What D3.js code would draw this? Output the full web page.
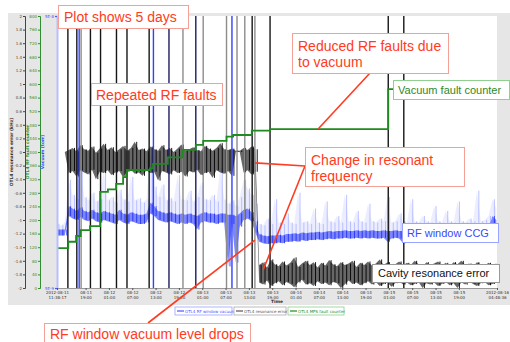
<!DOCTYPE html>
<head>
  <meta charset="utf-8">
  <style>
    body { margin: 0; background: #fff; }
    .tick text { font-family: "DejaVu Sans", sans-serif; font-size: 4px; }
    .note { font-family: "Liberation Sans", Arial, sans-serif; }
  </style>
  <script src="https://d3js.org/d3.v7.min.js"></script>
</head>
<body>
<script>
// time span shown in the plot
var startTime = "2012-08-11 11:38:17",
    endTime = "2012-08-16 04:48:36";

// time axis ticks (every 6 h)
var timeTicks = ["2012-08-11 19:00", "2012-08-12 01:00", "2012-08-12 07:00", "2012-08-12 13:00",
  "2012-08-12 19:00", "2012-08-13 01:00", "2012-08-13 07:00", "2012-08-13 13:00", "2012-08-13 19:00",
  "2012-08-14 01:00", "2012-08-14 07:00", "2012-08-14 13:00", "2012-08-14 19:00", "2012-08-15 01:00",
  "2012-08-15 07:00", "2012-08-15 13:00", "2012-08-15 19:00"];

var resTicks = [-2, -1.8, -1.6, -1.4, -1.2, -1, -0.8, -0.6, -0.4, -0.2, 0, 0.2, 0.4, 0.6, 0.8, 1, 1.2, 1.4, 1.6, 1.8, 2];
var cntTicks = [0, 40, 80, 120, 160, 200, 240, 280, 320, 360, 400, 440, 480, 520, 560, 600, 640, 680, 720, 760, 800];
var vacTicks = [5, 50];            // nTorr
var vacTickLabels = ["5E-9", "5E-8"];

// resonance error (kHz), min / max in each hour from the start
var resLo = [0, 0, 0, -0.31, -0.28, -0.36, -0.27, -0.30, -0.33, -0.26,
  -0.40, -0.29, -0.31, -0.27, -0.34, -0.30, -0.28, -0.37, -0.29, -0.26,
  -0.32, -0.30, -0.35, -0.27, -0.31, -0.29, -0.42, -0.28, -0.30, -0.33,
  -0.27, -0.31, -0.29, -0.36, -0.28, -0.30, -0.26, -0.34, -0.31, -0.29,
  -0.38, -0.27, -0.30, -0.32, -0.28, -0.35, 0.00, 0.00, -0.30, -0.27,
  -0.33, -0.29, -1.92, -1.95, -1.89, -1.97, -1.93, -1.90, -1.96, -1.91,
  -1.94, -1.99, -1.92, -1.88, -1.95, -1.93, -1.97, -1.90, -1.94, -1.92,
  -1.96, -1.91, -1.93, -2.00, -1.95, -1.89, -1.94, -1.92, -1.96, -1.93,
  -1.90, -1.95, -1.91, -1.97, -1.94, -1.92, -1.98, -1.93, -1.90, -1.95,
  -1.92, -1.96, -1.94, -1.91, -2.00, -1.93, -1.95, -1.92, -1.97, -1.94,
  -1.91, -1.96, -1.93, -2.00, -1.92, -1.95, -1.90, -1.94, -1.97, -1.93,
  -1.91, -1.96, -1.94, -1.92];
var resHi = [0, 0, 0, 0.03, 0.06, 0.01, 0.10, 0.04, 0.02, 0.08,
  -0.01, 0.05, 0.12, 0.03, 0.07, 0.00, 0.04, 0.09, 0.02, 0.06,
  0.15, 0.03, 0.05, 0.01, 0.08, 0.04, 0.02, 0.10, 0.03, 0.06,
  0.00, 0.05, 0.11, 0.02, 0.04, 0.07, 0.03, 0.01, 0.09, 0.05,
  0.02, 0.06, 0.13, 0.04, 0.03, 0.05, 0.02, 0.02, 0.06, 0.03,
  0.08, 0.04, -1.66, -1.62, -1.70, -1.58, -1.65, -1.68, -1.61, -1.67,
  -1.63, -1.55, -1.69, -1.64, -1.60, -1.66, -1.62, -1.70, -1.63, -1.67,
  -1.59, -1.65, -1.68, -1.62, -1.66, -1.64, -1.60, -1.69, -1.63, -1.66,
  -1.61, -1.67, -1.64, -1.58, -1.66, -1.62, -1.68, -1.65, -1.61, -1.67,
  -1.63, -1.66, -1.60, -1.65, -1.69, -1.62, -1.66, -1.64, -1.61, -1.67,
  -1.63, -1.68, -1.62, -1.65, -1.60, -1.66, -1.64, -1.69, -1.62, -1.65,
  -1.67, -1.63, -1.66, -1.64];

// RF window vacuum (nTorr), hourly min / max and peak
var vacLo = [7.8, 7.8, 7.8, 9.2, 9.0, 8.9, 9.1, 8.9, 8.8, 9.0,
  8.8, 8.7, 8.9, 8.8, 8.7, 8.6, 8.9, 8.7, 8.6, 8.8,
  8.7, 8.6, 8.6, 8.7, 9.4, 9.2, 8.9, 8.8, 8.7, 8.8,
  8.7, 8.6, 8.7, 8.6, 8.7, 8.6, 8.2, 8.7, 8.8, 8.7,
  8.7, 8.6, 8.7, 8.7, 6.0, 8.6, 6.2, 8.4, 8.9, 9.0,
  8.8, 8.0, 7.4, 7.3, 7.25, 7.3, 7.3, 7.35, 7.3, 7.4,
  7.4, 7.45, 7.4, 7.5, 7.45, 7.5, 7.5, 7.55, 7.5, 7.55,
  7.6, 7.55, 7.6, 7.6, 7.65, 7.6, 7.6, 7.65, 7.6, 7.65,
  7.6, 7.65, 7.6, 7.6, 7.65, 7.4, 7.6, 7.65, 7.6, 7.3,
  7.6, 7.65, 7.6, 7.65, 7.6, 7.65, 7.6, 7.6, 7.65, 7.6,
  7.65, 7.6, 7.65, 7.6, 7.6, 7.65, 7.6, 7.65, 7.6, 7.6,
  7.65, 7.7, 8.4, 8.1];
var vacHi = [8.2, 8.2, 8.2, 10.0, 9.8, 9.6, 9.9, 9.6, 9.5, 9.7,
  9.5, 9.4, 9.6, 9.5, 9.4, 9.3, 9.7, 9.4, 9.3, 9.5,
  9.4, 9.3, 9.3, 9.4, 10.3, 10.0, 9.6, 9.5, 9.4, 9.5,
  9.4, 9.3, 9.4, 9.3, 9.4, 9.3, 9.2, 9.4, 9.5, 9.4,
  9.4, 9.3, 9.4, 9.4, 9.3, 9.3, 9.2, 9.4, 9.7, 9.8,
  9.5, 8.8, 7.9, 7.8, 7.75, 7.8, 7.8, 7.85, 7.8, 7.9,
  7.9, 7.95, 7.9, 8.0, 7.95, 8.0, 8.0, 8.05, 8.0, 8.05,
  8.1, 8.05, 8.1, 8.1, 8.15, 8.1, 8.1, 8.15, 8.1, 8.15,
  8.1, 8.15, 8.1, 8.1, 8.15, 8.1, 8.1, 8.15, 8.1, 8.1,
  8.1, 8.15, 8.1, 8.15, 8.1, 8.15, 8.1, 8.1, 8.15, 8.1,
  8.15, 8.1, 8.15, 8.1, 8.1, 8.15, 8.1, 8.15, 8.1, 8.1,
  8.2, 8.3, 9.2, 8.9];
var vacPeak = [8.6, 8.5, 8.7, 12.5, 11.0, 10.6, 14.0, 10.8, 10.5, 11.2,
  10.4, 10.6, 13.5, 10.5, 10.8, 10.3, 11.5, 10.6, 10.4, 12.8,
  10.5, 10.7, 10.3, 10.6, 15.5, 11.8, 10.8, 12.0, 10.5, 10.7,
  10.4, 13.0, 10.6, 10.5, 11.4, 10.4, 10.8, 12.2, 10.6, 10.5,
  11.0, 10.4, 13.8, 10.6, 10.2, 10.5, 10.0, 10.8, 12.5, 11.6,
  11.0, 10.2, 8.6, 8.5, 9.0, 8.6, 10.6, 8.7, 8.6, 9.4,
  8.7, 8.6, 11.2, 8.7, 8.8, 8.6, 9.8, 8.7, 8.6, 10.4,
  8.8, 8.7, 9.2, 8.7, 11.0, 8.8, 8.7, 9.6, 8.8, 8.7,
  10.2, 8.8, 8.7, 9.0, 8.8, 10.8, 8.7, 8.8, 9.4, 8.8,
  8.7, 10.6, 8.8, 8.7, 9.2, 8.8, 8.7, 10.0, 8.8, 8.7,
  9.6, 8.8, 8.7, 10.4, 8.8, 8.7, 9.0, 8.8, 11.4, 8.8,
  8.9, 9.2, 10.6, 9.8];

// RF trips: hours from start where the traces go off scale
var faultHours = [2.8, 5.1, 5.7, 6.2, 8.6, 11.2, 15.3, 18.0, 23.7, 24.8, 28.8, 32.4,
  35.7, 37.6, 43.6, 45.0, 46.3, 48.3, 50.2, 50.9, 54.8, 85.2, 89.2];
var faultKinds = ["k", "k", "b", "g", "k", "k", "k", "k", "k", "b", "n", "g",
  "n", "g", "g", "b", "g", "g", "k", "g", "k", "k", "k"];

// MPS fault counter steps (hours from start, new count)
var counterHours = [0, 2.9, 4.9, 6.1, 8.5, 11.1, 13.1, 15.2, 17.0, 18.0, 23.9, 24.7,
  28.5, 32.3, 35.7, 37.6, 43.6, 45.3, 50.1, 54.8, 85.2];
var counterValues = [117, 136, 153, 170, 182, 283, 290, 306, 326, 347, 352, 365,
  384, 406, 421, 433, 445, 450, 463, 467, 585];

var width = 510, height = 342;
var plot = {left: 57, right: 497, top: 16, bottom: 288};

var parseFull = d3.timeParse("%Y-%m-%d %H:%M:%S"),
    parseTick = d3.timeParse("%Y-%m-%d %H:%M");
var t0 = parseFull(startTime), t1 = parseFull(endTime);
function atHour(h) { return new Date(t0.getTime() + h * 3600000); }

var x = d3.scaleTime().domain([t0, t1]).range([plot.left, plot.right]);
var yRes = d3.scaleLinear().domain([-2, 2]).range([plot.bottom, plot.top]);
var yCnt = d3.scaleLinear().domain([0, 800]).range([plot.bottom, plot.top]);
var yVac = d3.scaleLog().domain([5, 50]).range([plot.bottom, plot.top]);

var svg = d3.select("body").append("svg")
    .attr("width", width)
    .attr("height", height);

// grey panel + white plot area
svg.append("rect").attr("x", 8).attr("y", 13).attr("width", width - 8).attr("height", 292).attr("fill", "#e6e6e6");
svg.append("rect").attr("x", plot.left).attr("y", plot.top)
    .attr("width", plot.right - plot.left).attr("height", plot.bottom - plot.top).attr("fill", "#fff");

svg.append("clipPath").attr("id", "clip").append("rect")
    .attr("x", plot.left).attr("y", plot.top)
    .attr("width", plot.right - plot.left).attr("height", plot.bottom - plot.top);

var g = svg.append("g").attr("clip-path", "url(#clip)");

function band(lo, hi, y) {
  return d3.area()
    .x(function(d, i) { return x(atHour(i)); })
    .y0(function(d, i) { return y(lo[i]); })
    .y1(function(d, i) { return y(hi[i]); })(lo);
}
// vertical min-max strokes, like a decimated trace
function strokes(lo, hi, y, offset) {
  return lo.map(function(v, i) {
    var xx = x(atHour(i + offset));
    return "M" + xx + "," + y(v) + "V" + y(hi[i]);
  }).join("");
}

// vacuum: light spikes + haze, then dark band
g.append("path").attr("d", band(vacHi, vacPeak, yVac))
    .attr("fill", "#c9cfff").attr("opacity", 0.35);
g.append("path").attr("d", strokes(vacHi, vacPeak, yVac, 0.5))
    .attr("stroke", "#a9b2ff").attr("stroke-width", 0.8);
g.append("path").attr("d", band(vacLo, vacHi, yVac))
    .attr("fill", "#2536ff").attr("opacity", 0.6);
g.append("path").attr("d", strokes(vacLo, vacHi, yVac, 0.5))
    .attr("stroke", "#1626f0").attr("stroke-width", 0.8);

// resonance error
g.append("path").attr("d", band(resLo, resHi, yRes))
    .attr("fill", "#151515").attr("opacity", 0.65);
g.append("path").attr("d", strokes(resLo, resHi, yRes, 0.5))
    .attr("stroke", "#000").attr("stroke-width", 0.9);

// off-scale spikes at each RF trip
var kindColor = {k: "#161616", g: "#8c8c8c", b: "#3040ff", n: "#1c1c60"};
g.selectAll(".fault")
  .data(faultHours)
  .enter().append("line")
    .attr("class", "fault")
    .attr("x1", function(d) { return x(atHour(d)); })
    .attr("x2", function(d) { return x(atHour(d)); })
    .attr("y1", yRes(2))
    .attr("y2", yRes(-2))
    .attr("stroke", function(d, i) { return kindColor[faultKinds[i]]; })
    .attr("stroke-width", 1.4);

// fault counter step line
var cntPts = counterHours.map(function(h, i) { return [atHour(h), counterValues[i]]; });
cntPts.push([t1, counterValues[counterValues.length - 1]]);
g.append("path")
    .attr("d", d3.line()
      .x(function(d) { return x(d[0]); })
      .y(function(d) { return yCnt(d[1]); })
      .curve(d3.curveStepAfter)(cntPts))
    .attr("fill", "none").attr("stroke", "#1f8a1f").attr("stroke-width", 1.8);

// y axes
function styleAxis(sel, color) {
  sel.selectAll(".domain").attr("stroke", color);
  sel.selectAll(".tick line").attr("stroke", color);
  sel.selectAll(".tick text").attr("fill", color);
}
var axRes = svg.append("g").attr("transform", "translate(25,0)")
    .call(d3.axisLeft(yRes).tickValues(resTicks).tickSize(2).tickPadding(1).tickFormat(function(d) { return String(d); }));
styleAxis(axRes, "#444");
var axCnt = svg.append("g").attr("transform", "translate(40,0)")
    .call(d3.axisLeft(yCnt).tickValues(cntTicks).tickSize(2).tickPadding(1).tickFormat(function(d) { return String(d); }));
styleAxis(axCnt, "#2f8f2f");
var axVac = svg.append("g").attr("transform", "translate(" + plot.left + ",0)")
    .call(d3.axisLeft(yVac).tickValues(vacTicks).tickSize(2).tickPadding(1)
      .tickFormat(function(d, i) { return vacTickLabels[i]; }));
styleAxis(axVac, "#4a55ff");
axVac.select(".domain").attr("stroke", "#b8bfff").attr("stroke-width", 2);

// axis titles
var titles = [
  {text: "OTL4 resonance error (kHz)", x: 13, color: "#333"},
  {text: "OTL4 RF fault counter", x: 29, color: "#2f8f2f"},
  {text: "Vacuum (torr)", x: 44, color: "#3a46ff"}
];
svg.selectAll(".ytitle")
  .data(titles)
  .enter().append("text")
    .attr("transform", function(d) { return "translate(" + d.x + "," + (plot.top + plot.bottom) / 2 + ") rotate(-90)"; })
    .attr("text-anchor", "middle")
    .attr("font-family", "DejaVu Sans, sans-serif")
    .attr("font-size", "4.4px")
    .attr("font-weight", "bold")
    .attr("fill", function(d) { return d.color; })
    .text(function(d) { return d.text; });

// time axis
var tickDates = [t0].concat(timeTicks.map(parseTick)).concat([t1]);
var axTime = svg.append("g")
    .attr("transform", "translate(0," + plot.bottom + ")")
    .call(d3.axisBottom(x).tickValues(tickDates).tickSize(2).tickFormat(""));
styleAxis(axTime, "#555");
axTime.select(".domain").attr("stroke", "#999");
var fmtTop = d3.timeFormat("%m-%d"), fmtBot = d3.timeFormat("%H:%M"),
    fmtTopFull = d3.timeFormat("%Y-%m-%d"), fmtBotFull = d3.timeFormat("%H:%M:%S");
axTime.selectAll(".tick").each(function(d, i) {
  var ends = (i === 0 || i === tickDates.length - 1);
  var t = d3.select(this).append("text")
      .attr("fill", "#333").attr("text-anchor", "middle")
      .attr("font-family", "DejaVu Sans Mono, monospace").attr("font-size", "4.2px");
  t.append("tspan").attr("x", 0).attr("y", 6).text(ends ? fmtTopFull(d) : fmtTop(d));
  t.append("tspan").attr("x", 0).attr("y", 11).text(ends ? fmtBotFull(d) : fmtBot(d));
});
svg.append("text").attr("x", (plot.left + plot.right) / 2).attr("y", 303)
    .attr("text-anchor", "middle").attr("font-family", "DejaVu Sans, sans-serif")
    .attr("font-size", "4.4px").attr("font-weight", "bold").attr("fill", "#333").text("Time");

// legend
var legendItems = [
  {name: "OTL4 RF window vacuum", color: "#4a55ff", border: "#9aa3ff", x: 175, w: 57},
  {name: "OTL4 resonance error", color: "#555", border: "#aaa", x: 234, w: 52},
  {name: "OTL4 MPS fault counter", color: "#1f8a1f", border: "#8fcf8f", x: 288, w: 56}
];
var leg = svg.selectAll(".legend").data(legendItems).enter().append("g")
    .attr("transform", function(d) { return "translate(" + d.x + ",307)"; });
leg.append("rect").attr("width", function(d) { return d.w; }).attr("height", 8)
    .attr("fill", "#fff").attr("stroke", function(d) { return d.border; }).attr("stroke-width", 0.8);
leg.append("line").attr("x1", 2).attr("x2", 9).attr("y1", 4).attr("y2", 4)
    .attr("stroke", function(d) { return d.color; }).attr("stroke-width", 1.2);
leg.append("text").attr("x", 10).attr("y", 5.5)
    .attr("font-family", "DejaVu Sans, sans-serif").attr("font-size", "4px")
    .attr("fill", function(d) { return d.color; }).text(function(d) { return d.name; });

// callouts
var red = "#ff3b22";
var pointers = [
  {from: [370, 73], to: [x(atHour(67.1)), yCnt(467)]},
  {from: [305, 166], to: [x(atHour(50.9)), yRes(-0.16)]},
  {from: [305, 166], to: [x(atHour(53.0)), yRes(-1.74)]},
  {from: [148, 323], to: [x(atHour(50.9)), yVac(7.5)]}
];
svg.selectAll(".pointer").data(pointers).enter().append("line")
    .attr("x1", function(d) { return d.from[0]; }).attr("y1", function(d) { return d.from[1]; })
    .attr("x2", function(d) { return d.to[0]; }).attr("y2", function(d) { return d.to[1]; })
    .attr("stroke", red).attr("stroke-width", 1.6);

var notes = [
  {lines: ["Plot shows 5 days"], box: [58, 5, 130, 23], tx: 64, ty: [22], size: 14, color: red, border: "#f4a097"},
  {lines: ["Repeated RF faults"], box: [91, 83, 131, 22], tx: 96, ty: [100], size: 14, color: red, border: "#f4a097"},
  {lines: ["Reduced RF faults due", "to vacuum"], box: [292, 33, 156, 40], tx: 298, ty: [51, 67], size: 14, color: red, border: "#f4a097"},
  {lines: ["Change in resonant", "frequency"], box: [305, 147, 159, 39], tx: 311, ty: [165, 181], size: 14, color: red, border: "#f4a097"},
  {lines: ["RF window vacuum level drops"], box: [44, 323, 206, 24], tx: 50, ty: [339], size: 14, color: red, border: "#f4a097"},
  {lines: ["Vacuum fault counter"], box: [393, 80, 116, 19], tx: 398, ty: [93.5], size: 11, color: "#2a8a2a", border: "#8fcf8f"},
  {lines: ["RF window CCG"], box: [402, 223, 96, 19], tx: 407, ty: [236.5], size: 11, color: "#3a48ff", border: "#9aa5ff"},
  {lines: ["Cavity resonance error"], box: [372, 264, 127, 18], tx: 378, ty: [277], size: 11, color: "#111", border: "#999"}
];
var note = svg.selectAll(".note").data(notes).enter().append("g").attr("class", "note");
note.append("rect")
    .attr("x", function(d) { return d.box[0] + 0.5; }).attr("y", function(d) { return d.box[1] + 0.5; })
    .attr("width", function(d) { return d.box[2]; }).attr("height", function(d) { return d.box[3]; })
    .attr("fill", "#fff").attr("stroke", function(d) { return d.border; }).attr("stroke-width", 1);
note.each(function(d) {
  var sel = d3.select(this);
  d.lines.forEach(function(s, i) {
    sel.append("text").attr("x", d.tx).attr("y", d.ty[i])
      .attr("font-size", d.size + "px").attr("fill", d.color).text(s);
  });
});
</script>
</body>
</html>
